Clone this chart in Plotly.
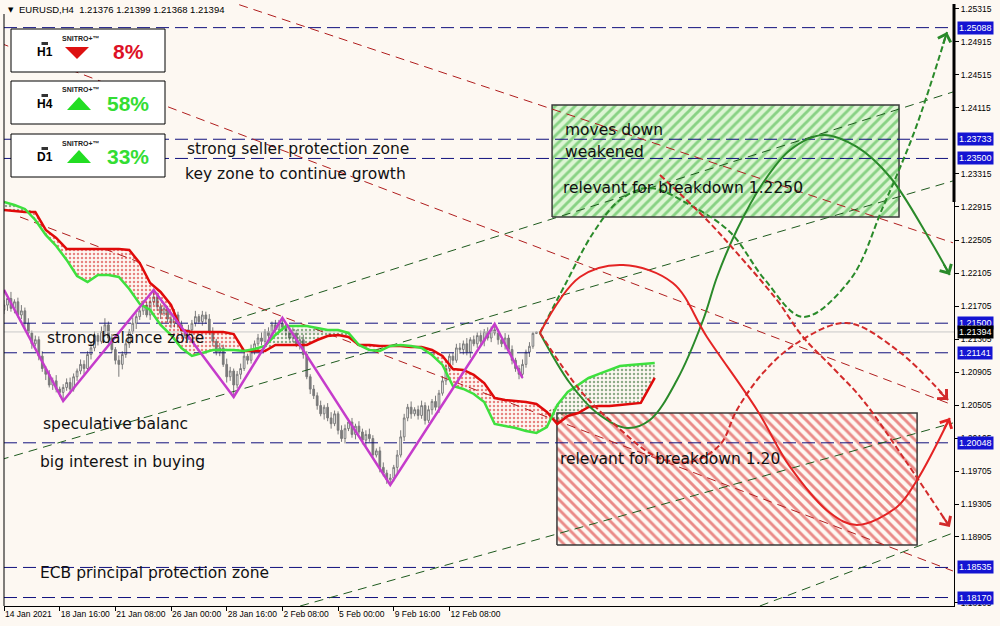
import numpy as np
import plotly.graph_objects as go

# ---------------- data ----------------
first_open = 1.2166
closes = [
    1.2172, 1.2180, 1.2168, 1.2176, 1.2160, 1.2165,
    1.2150, 1.2138, 1.2125, 1.2130, 1.2110, 1.2095,
    1.2088, 1.2075, 1.2080, 1.2070, 1.2066, 1.2072,
    1.2078, 1.2070, 1.2085, 1.2092, 1.2100, 1.2095, 1.2112, 1.2120, 1.2135, 1.2128, 1.2140,
    1.2148, 1.2132, 1.2118, 1.2105, 1.2100,
    1.2112, 1.2125, 1.2140, 1.2150, 1.2158, 1.2165, 1.2172, 1.2160, 1.2176, 1.2182,
    1.2170, 1.2162, 1.2168, 1.2155, 1.2150, 1.2160, 1.2148, 1.2140, 1.2135,
    1.2142, 1.2150, 1.2158, 1.2152, 1.2160, 1.2155,
    1.2140, 1.2128, 1.2115, 1.2120, 1.2100, 1.2085, 1.2092, 1.2075,
    1.2088, 1.2095, 1.2110, 1.2105, 1.2118, 1.2125, 1.2132, 1.2128, 1.2140, 1.2135, 1.2148, 1.2142, 1.2150, 1.2145,
    1.2140, 1.2132, 1.2138, 1.2125, 1.2130, 1.2112,
    1.2085, 1.2070, 1.2062, 1.2050, 1.2040, 1.2048,
    1.2035, 1.2028, 1.2040, 1.2020, 1.2010, 1.2022,
    1.2030, 1.2015, 1.2025, 1.2018, 1.2008, 1.2015,
    1.2010, 1.1990, 1.1995, 1.1975, 1.1968, 1.1960, 1.1962,
    1.1975, 1.1990, 1.2012, 1.2035, 1.2048, 1.2040, 1.2045,
    1.2038, 1.2050, 1.2032, 1.2045, 1.2055, 1.2048, 1.2065, 1.2080,
    1.2095, 1.2110, 1.2105, 1.2120, 1.2118, 1.2125, 1.2115, 1.2130,
    1.2125, 1.2135, 1.2128, 1.2140, 1.2132, 1.2142, 1.2138,
    1.2130, 1.2125, 1.2132, 1.2118, 1.2105, 1.2095, 1.2088, 1.2100,
    1.2115, 1.2122, 1.21376, 1.21394,
]
wick_up_pips = [
    6, 4, 8, 3, 5, 7, 4, 6, 3, 5,
    4, 6, 3, 5, 4, 7, 3, 4, 5, 6,
    4, 3, 6, 5, 4, 7, 5, 3, 6, 8,
    4, 5, 3, 6, 4, 5, 3, 7, 4, 5,
    6, 4, 3, 8, 5, 4, 6, 3, 5, 7,
    4, 5, 3, 6, 4, 7, 3, 5, 4, 6,
    5, 3, 6, 4, 7, 5, 3, 4, 6, 5,
    3, 6, 4, 5, 7, 3, 5, 4, 6, 4,
    6, 5, 3, 7, 4, 5, 6, 4, 3, 5,
    4, 6, 3, 5, 7, 4, 3, 6, 5, 4,
    5, 3, 6, 4, 5, 7, 4, 3, 5, 6,
    4, 5, 3, 6, 8, 5, 4, 7, 3, 5,
    6, 4, 5, 3, 7, 4, 6, 5, 3, 4,
    5, 6, 4, 7, 3, 5, 4, 6, 3, 5,
    4, 7, 5, 3, 6, 4, 5, 3, 4, 6,
    3, 5, 2, 0.5,
]
wick_dn_pips = [
    5, 7, 4, 6, 3, 5, 8, 4, 6, 3,
    5, 4, 7, 3, 6, 4, 5, 10, 4, 6,
    3, 5, 4, 7, 3, 6, 4, 5, 3, 6,
    7, 4, 5, 15, 6, 4, 5, 3, 7, 4,
    5, 3, 6, 4, 5, 7, 3, 4, 6, 5,
    4, 6, 3, 5, 7, 4, 3, 5, 6, 4,
    6, 4, 5, 3, 7, 5, 15, 4, 6, 3,
    5, 4, 6, 3, 5, 4, 7, 3, 5, 4,
    4, 6, 3, 5, 4, 7, 5, 3, 6, 4,
    5, 3, 7, 4, 6, 3, 5, 4, 6, 3,
    4, 6, 3, 5, 7, 4, 5, 3, 6, 4,
    5, 6, 4, 7, 3, 5, 4, 6, 3, 5,
    4, 5, 3, 6, 4, 7, 3, 5, 4, 6,
    3, 5, 6, 4, 7, 3, 5, 4, 6, 3,
    5, 3, 6, 4, 7, 3, 5, 4, 6, 5,
    4, 6, 3, 0.8,
]

zigzag_x = [0, 17, 43, 66, 80, 111, 141, 149]
zigzag_y = [1.21904, 1.20556, 1.21904, 1.20605, 1.21564, 1.19536, 1.21491, 1.20835]

cloud_x = [0, 3, 6, 9, 12, 15, 18, 21, 24, 27, 30, 33, 36, 39, 42, 45, 48, 51, 54, 57,
           60, 63, 66, 69, 72, 75, 78, 81, 84, 87, 90, 93, 96, 99, 102, 105, 108, 111, 114, 117,
           120, 123, 126, 129, 132, 135, 138, 141, 144, 147, 150, 153, 156, 159, 162, 165, 168, 171, 174, 177,
           180, 183, 187]
senkou_b = [1.22875, 1.22863, 1.22850, 1.22850, 1.22632, 1.22535, 1.22401, 1.22401, 1.22401, 1.22401,
            1.22401, 1.22401, 1.22389, 1.22231, 1.21988, 1.21879, 1.21721, 1.21418, 1.21394, 1.21394,
            1.21394, 1.21394, 1.21369, 1.21163, 1.21163, 1.21163, 1.21236, 1.21236, 1.21236, 1.21236,
            1.21296, 1.21345, 1.21357, 1.21333, 1.21236, 1.21236, 1.21224, 1.21224, 1.21224, 1.21211,
            1.21211, 1.21175, 1.21102, 1.20944, 1.20932, 1.20872, 1.20774, 1.20592, 1.20568, 1.20556,
            1.20544, 1.20519, 1.20422, 1.20277, 1.20374, 1.20410, 1.20483, 1.20495, 1.20495, 1.20507,
            1.20519, 1.20532, 1.20835]
senkou_a = [1.22972, 1.22935, 1.22887, 1.22753, 1.22571, 1.22438, 1.22268, 1.22073, 1.22001, 1.22086,
            1.22086, 1.22061, 1.21915, 1.21734, 1.21661, 1.21479, 1.21357, 1.21199, 1.21102, 1.21139,
            1.21175, 1.21175, 1.21175, 1.21163, 1.21187, 1.21224, 1.21357, 1.21466, 1.21466, 1.21466,
            1.21442, 1.21418, 1.21418, 1.21382, 1.21236, 1.21175, 1.21163, 1.21224, 1.21236, 1.21224,
            1.21199, 1.21114, 1.20993, 1.20738, 1.20702, 1.20641, 1.20544, 1.20277, 1.20252, 1.20228,
            1.20192, 1.20168, 1.20240, 1.20507, 1.20665, 1.20750, 1.20835, 1.20884, 1.20932, 1.20981,
            1.20993, 1.21005, 1.21017]

levels = [1.25088, 1.23733, 1.23500, 1.21500, 1.21141, 1.20048, 1.18535, 1.18170]
price_ticks = [1.25315, 1.24915, 1.24515, 1.24115, 1.23315, 1.22915, 1.22505, 1.22105, 1.21705,
               1.21305, 1.20905, 1.20505, 1.20105, 1.19705, 1.19305, 1.18905, 1.18105]
time_tick_idx = [0, 16, 32, 48, 64, 80, 96, 112, 128]
time_tick_labels = ["14 Jan 2021", "18 Jan 16:00", "21 Jan 08:00", "26 Jan 00:00", "28 Jan 16:00",
                    "2 Feb 08:00", "5 Feb 00:00", "9 Feb 16:00", "12 Feb 08:00"]

red_trends = [((63.5, 1.25424), (272.7, 1.22476)),
              ((-1.2, 1.24902), (272.7, 1.20507)),
              ((4.6, 1.22790), (272.7, 1.18492))]
green_trends = [((65.8, 1.21539), (272.7, 1.24307)),
                ((-1.2, 1.19840), (272.7, 1.23227)),
                ((85.1, 1.18067), (272.7, 1.20289)),
                ((217.2, 1.18067), (272.7, 1.18953))]

green_zone_x = [157.5, 257.2]
green_zone_y = [1.22790, 1.24149]
red_zone_x = [158.9, 262.4]
red_zone_y = [1.18808, 1.20410]

green_solid_x = [154.0, 162.6, 170.4, 179.0, 185.6, 193.4, 200.9, 204.9, 210.6, 218.1, 225.9, 235.3, 245.1, 254.6, 266.1, 271.8]
green_solid_y = [1.21382, 1.20774, 1.20410, 1.20228, 1.20325, 1.20811, 1.21539, 1.22061, 1.22632, 1.23202, 1.23603, 1.23785, 1.23640, 1.23275, 1.22510, 1.22086]
green_dash_x = [154.0, 161.2, 169.3, 177.0, 185.6, 197.1, 208.6, 218.7, 229.6, 243.1, 252.6, 261.8, 271.0]
green_dash_y = [1.21382, 1.21964, 1.22595, 1.22996, 1.23142, 1.22935, 1.22608, 1.22025, 1.21576, 1.22025, 1.22911, 1.23846, 1.25036]
red_solid_x = [154.0, 165.5, 177.9, 192.2, 202.0, 216.4, 225.9, 237.4, 245.1, 256.6, 262.4, 271.8]
red_solid_y = [1.21382, 1.22061, 1.22207, 1.21988, 1.21333, 1.20447, 1.19755, 1.19196, 1.19051, 1.19269, 1.19597, 1.20350]
red_dash1_x = [154.0, 165.5, 175.0, 187.6, 197.1, 205.7, 210.6, 218.1, 227.9, 242.2, 256.6, 271.3]
red_dash1_y = [1.21382, 1.20689, 1.20289, 1.19876, 1.19815, 1.20022, 1.20447, 1.20896, 1.21260, 1.21503, 1.21175, 1.20568]
red_dash2_x = [188.5, 202.0, 210.6, 222.1, 229.6, 238.8, 246.8, 258.9, 271.8]
red_dash2_y = [1.23299, 1.22753, 1.22353, 1.21782, 1.21333, 1.20932, 1.20568, 1.19840, 1.19026]

notes = [
    ("strong seller protection zone", 52.0, 1.23617),
    ("key zone to continue growth", 51.4, 1.23312),
    ("strong balance zone", 11.8, 1.21320),
    ("speculative balanc", 10.6, 1.20277),
    ("big interest in buying", 9.8, 1.19815),
    ("ECB principal protection zone", 9.8, 1.18468),
    ("moves down", 160.6, 1.23846),
    ("weakened", 160.6, 1.23579),
    ("relevant for breakdown 1.2250", 160.0, 1.23142),
    ("relevant for breakdown 1.20", 159.2, 1.19852),
]
panels = [("H1", "down", "8%"), ("H4", "up", "58%"), ("D1", "up", "33%")]

# ---------------- layout constants ----------------
W, H = 1000, 626
ML, MR, MT, MB = 4, 46, 4, 20
PW, PH = W - ML - MR, H - MT - MB
x_range = [0, 273]
y_range = [1.18067, 1.25375]
BG = "#FDF8F2"
NAVY = "#12127E"

def pp(x, y):
    return (x - ML) / PW, 1 - (y - MT) / PH

opens = [first_open] + closes[:-1]
highs = [max(o, c) + u * 1e-4 for o, c, u in zip(opens, closes, wick_up_pips)]
lows = [min(o, c) - d * 1e-4 for o, c, d in zip(opens, closes, wick_dn_pips)]
bar_idx = list(range(len(closes)))

fig = go.Figure()

# zones
for zx, zy, fg, bg, shp in [(green_zone_x, green_zone_y, "#34B034", "#DDF5D4", "/"),
                            (red_zone_x, red_zone_y, "#D81C1C", "rgba(0,0,0,0)", "\\")]:
    fig.add_trace(go.Scatter(
        x=[zx[0], zx[1], zx[1], zx[0], zx[0]], y=[zy[0], zy[0], zy[1], zy[1], zy[0]],
        mode="lines", fill="toself", fillcolor=bg,
        fillpattern=dict(shape=shp, fgcolor=fg, bgcolor=bg, size=7, solidity=0.42),
        line=dict(color="#3A3A3A", width=1.5), hoverinfo="skip", showlegend=False))

# horizontal levels
lx, ly = [], []
for lv in levels:
    lx += [x_range[0], x_range[1], None]
    ly += [lv, lv, None]
fig.add_trace(go.Scatter(x=lx, y=ly, mode="lines", line=dict(color=NAVY, width=1, dash="13px,6px"),
                         hoverinfo="skip", showlegend=False))
bid = closes[-1]
fig.add_trace(go.Scatter(x=x_range, y=[bid, bid], mode="lines", line=dict(color="#C8C8C8", width=1),
                         hoverinfo="skip", showlegend=False))

# trend lines
for trends, col in [(red_trends, "#B01E1E"), (green_trends, "#1E5A1E")]:
    tx, ty = [], []
    for (a, b) in trends:
        tx += [a[0], b[0], None]
        ty += [a[1], b[1], None]
    fig.add_trace(go.Scatter(x=tx, y=ty, mode="lines", line=dict(color=col, width=1, dash="9px,6px"),
                             hoverinfo="skip", showlegend=False))

# ichimoku cloud
A = np.array(senkou_a)
B = np.array(senkou_b)
top = np.maximum(A, B)
for base, fg in [(A, "#D01010"), (B, "#1F5F1F")]:
    fig.add_trace(go.Scatter(x=cloud_x, y=base, mode="lines", line=dict(width=0, color="rgba(0,0,0,0)"),
                             hoverinfo="skip", showlegend=False))
    fig.add_trace(go.Scatter(x=cloud_x, y=top, mode="lines", line=dict(width=0, color="rgba(0,0,0,0)"),
                             fill="tonexty", fillcolor="rgba(0,0,0,0)",
                             fillpattern=dict(shape=".", fgcolor=fg, bgcolor="rgba(0,0,0,0)", size=4, solidity=0.3),
                             hoverinfo="skip", showlegend=False))
fig.add_trace(go.Scatter(x=cloud_x, y=senkou_b, mode="lines", line=dict(color="#E00A0A", width=2.5),
                         hoverinfo="skip", showlegend=False))
fig.add_trace(go.Scatter(x=cloud_x, y=senkou_a, mode="lines", line=dict(color="#3EE03E", width=2.5),
                         hoverinfo="skip", showlegend=False))

# candles
fig.add_trace(go.Candlestick(
    x=bar_idx, open=opens, high=highs, low=lows, close=closes,
    increasing=dict(line=dict(color="#7A7A7A", width=1), fillcolor="#FFFFFF"),
    decreasing=dict(line=dict(color="#7A7A7A", width=1), fillcolor="#7A7A7A"),
    whiskerwidth=0, hoverinfo="skip", showlegend=False))

# zigzag
fig.add_trace(go.Scatter(x=zigzag_x, y=zigzag_y, mode="lines", line=dict(color="#C53CCB", width=2.5),
                         hoverinfo="skip", showlegend=False))

# projection curves
curves = [
    (green_solid_x, green_solid_y, "#2A8A2A", "solid"),
    (green_dash_x, green_dash_y, "#2A8A2A", "6px,3px"),
    (red_solid_x, red_solid_y, "#E42424", "solid"),
    (red_dash1_x, red_dash1_y, "#D22A2A", "6px,3px"),
    (red_dash2_x, red_dash2_y, "#D22A2A", "6px,3px"),
]
SX = PW / (x_range[1] - x_range[0])
SY = PH / (y_range[1] - y_range[0])
for cx, cy, col, dash in curves:
    fig.add_trace(go.Scatter(x=cx, y=cy, mode="lines", line=dict(color=col, width=2, dash=dash, shape="spline", smoothing=1.0),
                             hoverinfo="skip", showlegend=False))
    dx = (cx[-1] - cx[-2]) * SX
    dy = -(cy[-1] - cy[-2]) * SY
    n = float(np.hypot(dx, dy))
    fig.add_annotation(x=cx[-1], y=cy[-1], ax=-dx / n * 14, ay=-dy / n * 14, text="", showarrow=True,
                       arrowhead=4, arrowsize=1.3, arrowwidth=2, arrowcolor=col, standoff=0)

# text notes
for txt, tx, ty in notes:
    fig.add_annotation(x=tx, y=ty, text=txt, showarrow=False, xanchor="left", yanchor="middle",
                       font=dict(family="DejaVu Sans", size=15.5, color="#111111"))

# level labels on price axis
for lv in levels:
    fig.add_annotation(xref="paper", x=1, y=lv, xshift=3, xanchor="left", yanchor="middle",
                       text=f"{lv:.5f}", showarrow=False, bgcolor="#1414D2", borderpad=1,
                       font=dict(family="Liberation Sans", size=9, color="white"))
fig.add_annotation(xref="paper", x=1, y=bid, xshift=3, xanchor="left", yanchor="middle",
                   text=f"{bid:.5f}", showarrow=False, bgcolor="#000000", borderpad=1,
                   font=dict(family="Liberation Sans", size=9, color="white"))

# header
fig.add_annotation(xref="paper", yref="paper", x=pp(6, 10)[0], y=pp(6, 10)[1], xanchor="left", yanchor="middle",
                   text="▼", showarrow=False, font=dict(family="DejaVu Sans", size=7, color="black"))
fig.add_annotation(xref="paper", yref="paper", x=pp(17, 10)[0], y=pp(17, 10)[1], xanchor="left", yanchor="middle",
                   text=f"EURUSD,H4  {opens[-1]:.5f} {highs[-1]:.5f} {lows[-1]:.5f} {closes[-1]:.5f}",
                   showarrow=False, font=dict(family="Liberation Sans", size=9.5, color="black"))

# indicator panels
shapes = []
for i, (tf, direction, pct) in enumerate(panels):
    y0 = [29, 81, 134][i]
    y1 = y0 + 43
    a0 = pp(11, y0); a1 = pp(165, y1)
    shapes.append(dict(type="rect", xref="paper", yref="paper", x0=a0[0], y0=a1[1], x1=a1[0], y1=a0[1],
                       fillcolor="white", line=dict(color="black", width=1), layer="above"))
    ic0 = pp(41.5, y0 + 13); ic1 = pp(48, y0 + 16)
    shapes.append(dict(type="rect", xref="paper", yref="paper", x0=ic0[0], y0=ic1[1], x1=ic1[0], y1=ic0[1],
                       fillcolor="#333333", line=dict(width=0), layer="above"))
    ym = y0 + 23
    if direction == "down":
        pts = [pp(65, ym - 5), pp(89, ym - 5), pp(77, ym + 7)]
        col = "#DD1111"; pcol = "#DD1126"
    else:
        pts = [pp(67, ym + 6), pp(91, ym + 6), pp(79, ym - 7)]
        col = "#22DD22"; pcol = "#33DD33"
    path = "M {},{} L {},{} L {},{} Z".format(pts[0][0], pts[0][1], pts[1][0], pts[1][1], pts[2][0], pts[2][1])
    shapes.append(dict(type="path", xref="paper", yref="paper", path=path, fillcolor=col,
                       line=dict(width=0), layer="above"))
    p = pp(45, ym)
    fig.add_annotation(xref="paper", yref="paper", x=p[0], y=p[1], text=f"<b>{tf}</b>", showarrow=False,
                       xanchor="center", yanchor="middle",
                       font=dict(family="Liberation Sans", size=12, color="black"))
    p = pp(81, y0 + 9)
    fig.add_annotation(xref="paper", yref="paper", x=p[0], y=p[1], text="<b>SNITRO+™</b>", showarrow=False,
                       xanchor="center", yanchor="middle",
                       font=dict(family="Liberation Sans", size=7, color="#222222"))
    p = pp(128, ym)
    fig.add_annotation(xref="paper", yref="paper", x=p[0], y=p[1], text=f"<b>{pct}</b>", showarrow=False,
                       xanchor="center", yanchor="middle",
                       font=dict(family="Liberation Sans", size=21, color=pcol))

# frame bits
shapes.append(dict(type="line", xref="paper", yref="paper", x0=0, x1=0, y0=0, y1=pp(0, 14)[1],
                   line=dict(color="black", width=1), layer="above"))
shapes.append(dict(type="line", xref="paper", yref="paper", x0=1, x1=1, y0=pp(0, 202)[1], y1=1,
                   line=dict(color="black", width=3), layer="above"))

fig.update_layout(
    width=W, height=H, margin=dict(l=ML, r=MR, t=MT, b=MB, autoexpand=False),
    paper_bgcolor=BG, plot_bgcolor=BG, shapes=shapes,
    font=dict(family="Liberation Sans", size=8.5, color="black"),
    xaxis=dict(range=x_range, showgrid=False, zeroline=False, showline=True, linecolor="black", linewidth=1,
               tickmode="array", tickvals=time_tick_idx, ticktext=time_tick_labels, automargin=False,
               tickangle=0, ticks="outside", ticklen=4, tickcolor="black", ticklabelposition="outside right",
               tickfont=dict(family="Liberation Sans", size=8.5), rangeslider=dict(visible=False)),
    yaxis=dict(range=y_range, side="right", showgrid=False, zeroline=False, showline=True, linecolor="black",
               linewidth=1, tickmode="array", tickvals=price_ticks, ticktext=[f"{v:.5f}" for v in price_ticks],
               automargin=False, ticks="outside", ticklen=4, tickcolor="black",
               tickfont=dict(family="Liberation Sans", size=8.5)),
    showlegend=False,
)

fig.write_html("out.html", config={"displayModeBar": False},
               post_script=f"document.body.style.margin='0';document.body.style.background='{BG}';")
